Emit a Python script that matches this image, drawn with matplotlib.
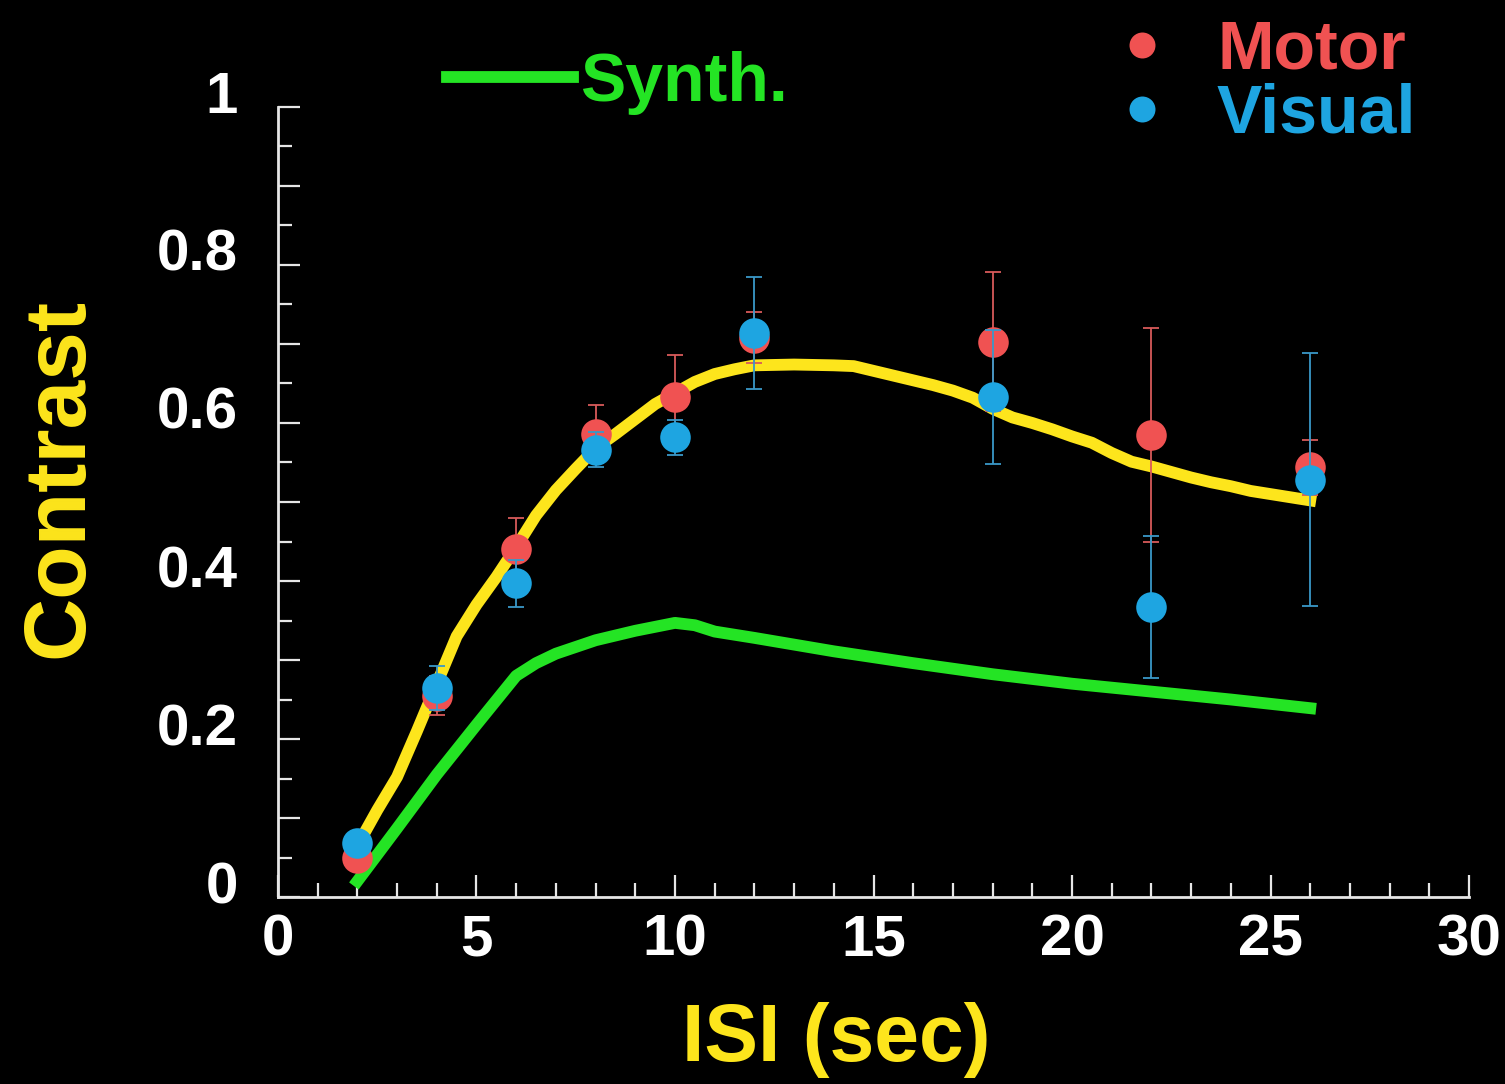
import numpy as np
import matplotlib.pyplot as plt
import matplotlib.transforms as mtransforms
from matplotlib.ticker import MultipleLocator, FuncFormatter

# measured points (ISI in sec)
isi = [2, 4, 6, 8, 10, 12, 18, 22, 26]
motor = [0.05, 0.255, 0.44, 0.586, 0.633, 0.708, 0.703, 0.585, 0.544]
motor_err = [0.01, 0.025, 0.04, 0.037, 0.053, 0.032, 0.088, 0.135, 0.035]
visual = [0.068, 0.265, 0.397, 0.566, 0.582, 0.714, 0.633, 0.367, 0.528]
visual_err = [0.01, 0.028, 0.03, 0.022, 0.022, 0.071, 0.085, 0.09, 0.16]

# fitted curve (yellow)
fit_x = [2.0, 2.5, 3.0, 3.5, 4.0, 4.5, 5.0, 5.5, 6.0, 6.5, 7.0, 7.5, 8.0, 8.5, 9.0,
         9.5, 10.0, 10.5, 11.0, 11.5, 12.0, 13.0, 14.0, 14.5, 15.0, 15.5, 16.0,
         16.5, 17.0, 17.5, 18.0, 18.5, 19.0, 19.5, 20.0, 20.5, 21.0, 21.5, 22.0,
         22.5, 23.0, 23.5, 24.0, 24.5, 25.0, 25.5, 26.0]
fit_y = [0.065, 0.11, 0.152, 0.21, 0.27, 0.33, 0.37, 0.405, 0.443, 0.483, 0.515,
         0.542, 0.568, 0.586, 0.605, 0.624, 0.638, 0.652, 0.662, 0.668, 0.673,
         0.674, 0.673, 0.672, 0.666, 0.66, 0.654, 0.648, 0.641, 0.632, 0.618,
         0.607, 0.6, 0.592, 0.583, 0.575, 0.562, 0.551, 0.545, 0.538, 0.531,
         0.525, 0.52, 0.514, 0.51, 0.506, 0.502]

# synthetic curve (green)
synth_x = [2, 3, 4, 5, 6, 6.5, 7, 8, 9, 10, 10.5, 11, 12, 14, 16, 18, 20, 22, 24, 26]
synth_y = [0.02, 0.087, 0.155, 0.218, 0.28, 0.296, 0.308, 0.325, 0.337, 0.347,
           0.344, 0.336, 0.328, 0.311, 0.296, 0.282, 0.27, 0.26, 0.25, 0.239]

red = '#f05252'
blue = '#1ea5e1'
yellow = '#fde51c'
green = '#24e424'
axcol = '#e6e6e6'

plt.rcParams['font.family'] = ['Liberation Sans', 'DejaVu Sans']
plt.rcParams['font.weight'] = 'bold'

fig = plt.figure(figsize=(15.05, 10.84), dpi=100, facecolor='black')
ax = fig.add_axes([0.1847, 0.1725, 0.7914, 0.7288], facecolor='black')

synth, = ax.plot(synth_x, synth_y, color=green, lw=8.5, zorder=2)
ax.plot(fit_x, fit_y, color=yellow, lw=8.5, zorder=3)

mot = ax.errorbar(isi, motor, yerr=motor_err, fmt='o', color=red, ms=22, mec='none',
                  ecolor='#d85a5a', elinewidth=1.3, capsize=6, capthick=1.3, zorder=4)
vis = ax.errorbar(isi, visual, yerr=visual_err, fmt='o', color=blue, ms=22, mec='none',
                  ecolor='#3a98c8', elinewidth=1.3, capsize=6, capthick=1.3, zorder=5)

ax.set_xlim(0, 30)
ax.set_ylim(0, 1)
ax.spines['top'].set_visible(False)
ax.spines['right'].set_visible(False)
for s in ['left', 'bottom']:
    ax.spines[s].set_color(axcol)
    ax.spines[s].set_linewidth(2)

ax.xaxis.set_major_locator(MultipleLocator(5))
ax.xaxis.set_minor_locator(MultipleLocator(1))
ax.yaxis.set_major_locator(MultipleLocator(0.1))
ax.yaxis.set_minor_locator(MultipleLocator(0.05))


def ylab(v, pos):
    k = int(round(v * 10))
    if k % 2:
        return ''
    if k == 0:
        return '0'
    if k == 10:
        return '1'
    return '%.1f' % v


ax.yaxis.set_major_formatter(FuncFormatter(ylab))
ax.tick_params(which='both', direction='in', colors=axcol, width=1.6)
ax.tick_params(which='major', length=16)
ax.tick_params(which='minor', length=10)
ax.tick_params(axis='x', labelsize=42, labelcolor='white', pad=12)
ax.tick_params(axis='y', labelsize=42, labelcolor='white', pad=29)

# y labels sit a little above their ticks
off = mtransforms.ScaledTranslation(0, 15 / 100, fig.dpi_scale_trans)
for lab in ax.get_yticklabels():
    lab.set_transform(lab.get_transform() + off)

ax.set_xlabel('ISI (sec)', color=yellow, fontsize=58, fontweight='bold')
ax.xaxis.set_label_coords(0.4685, -0.133)
ax.set_ylabel('Contrast', color=yellow, fontsize=63, fontweight='bold')
ax.yaxis.set_label_coords(-0.149, 0.53)

leg1 = ax.legend([synth], ['Synth.'], loc='center left', bbox_to_anchor=(0.142, 1.03),
                 frameon=False, handlelength=1.85, handletextpad=0.1, borderpad=0,
                 borderaxespad=0, labelcolor=green,
                 prop={'family': 'Liberation Sans', 'weight': 'bold', 'size': 49})
ax.add_artist(leg1)
ax.legend([mot[0], vis[0]], ['Motor', 'Visual'], loc='upper left',
          bbox_to_anchor=(0.697, 1.112), frameon=False, handlelength=1.0,
          handletextpad=0.6, borderpad=0, borderaxespad=0, labelspacing=0.0,
          markerscale=0.85, labelcolor='markerfacecolor',
          prop={'family': 'Liberation Sans', 'weight': 'bold', 'size': 49})

fig.savefig('out.png', dpi=100, facecolor='black')
